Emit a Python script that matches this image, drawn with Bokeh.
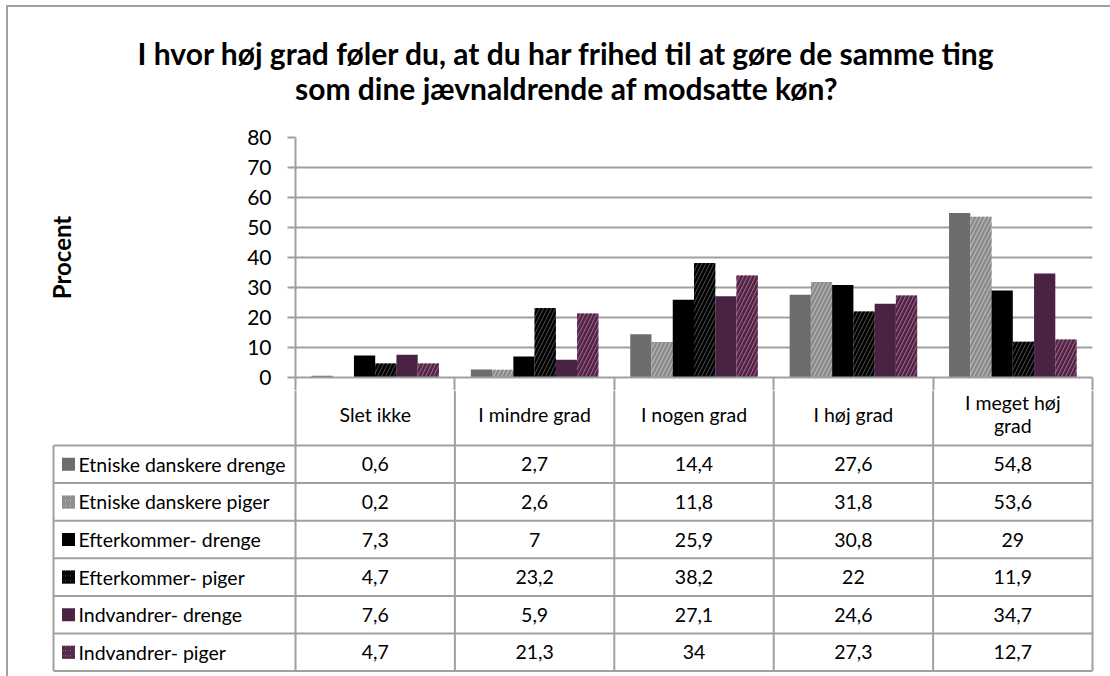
import numpy as np
from bokeh.plotting import figure
from bokeh.layouts import column
from bokeh.models import Range1d, FixedTicker, ColumnDataSource
from bokeh.core.properties import value
from bokeh.embed import file_html
from bokeh.resources import INLINE

# ---------------- data ----------------
title_text = ("I hvor høj grad føler du, at du har frihed til at gøre de samme ting\n"
              "som dine jævnaldrende af modsatte køn?")
y_title = "Procent"
categories = ["Slet ikke", "I mindre grad", "I nogen grad", "I høj grad", "I meget høj\ngrad"]
series = ["Etniske danskere drenge", "Etniske danskere piger", "Efterkommer- drenge",
          "Efterkommer- piger", "Indvandrer- drenge", "Indvandrer- piger"]
etniske_drenge = [0.6, 2.7, 14.4, 27.6, 54.8]
etniske_piger = [0.2, 2.6, 11.8, 31.8, 53.6]
efterkommer_drenge = [7.3, 7, 25.9, 30.8, 29]
efterkommer_piger = [4.7, 23.2, 38.2, 22, 11.9]
indvandrer_drenge = [7.6, 5.9, 27.1, 24.6, 34.7]
indvandrer_piger = [4.7, 21.3, 34, 27.3, 12.7]
values = [etniske_drenge, etniske_piger, efterkommer_drenge,
          efterkommer_piger, indvandrer_drenge, indvandrer_piger]
y_ticks = [0, 10, 20, 30, 40, 50, 60, 70, 80]

# ---------------- styles ----------------
fills = ["#6d6d6d", "#b8b8b8", "#000000", "#404040", "#4a2343", "#9a5a7f"]
hatches = [None, "/", None, "/", None, "/"]
hatch_cols = [None, "#8a8a8a", None, "#000000", None, "#4f2645"]
GRID = "#a0a0a0"
FONT = "Lato"
TXT = "19.5px"

# ---------------- layout (page pixels) ----------------
W = 1110
PAGE = 0
FRAME_L, FRAME_R = 295, 1092
FRAME_T, FRAME_B = 137, 377
TITLE_BOTTOM = 113
A_BOTTOM = 390
PAGE_BOTTOM = 676
LEG_L = 53
TABLE_T = 445
ROW = 37.6

n_cat = len(categories)
n_ser = len(series)
unit_x = (FRAME_R - FRAME_L) / n_cat


def clean(p):
    p.border_fill_color = None
    p.background_fill_color = None
    p.outline_line_color = None


# ---------------- title figure ----------------
hT = TITLE_BOTTOM - PAGE
pT = figure(width=W, height=hT, x_range=Range1d(0, W), y_range=Range1d(0, hT),
            min_border=0, x_axis_type=None, y_axis_type=None, frame_align=False,
            output_backend="svg", toolbar_location=None)
clean(pT)
pT.grid.visible = False
pT.text(x=[566 - PAGE], y=[hT - (70 - PAGE)], text=[title_text],
        text_font=value(FONT), text_font_style="bold", text_font_size="30px",
        text_align="center", text_baseline="middle", text_line_height=0.96,
        text_color="black")

# ---------------- bar chart ----------------
hA = A_BOTTOM - TITLE_BOTTOM
pA = figure(width=W, height=hA, x_range=Range1d(0, n_cat), y_range=Range1d(0, 80),
            min_border_left=FRAME_L - PAGE, min_border_right=PAGE + W - FRAME_R,
            min_border_top=FRAME_T - TITLE_BOTTOM, min_border_bottom=A_BOTTOM - FRAME_B,
            frame_align=False, output_backend="svg", toolbar_location=None)
clean(pA)
pA.xgrid.visible = False
pA.ygrid.ticker = FixedTicker(ticks=y_ticks[1:])
pA.ygrid.grid_line_color = GRID
pA.ygrid.grid_line_width = 2

xa = pA.xaxis[0]
xa.ticker = FixedTicker(ticks=[], minor_ticks=list(range(n_cat + 1)))
xa.axis_line_color = GRID
xa.axis_line_width = 2
xa.major_tick_out = 0
xa.major_tick_in = 0
xa.major_label_standoff = 0
xa.major_label_text_font_size = "1px"
xa.minor_tick_out = A_BOTTOM - FRAME_B
xa.minor_tick_in = 0
xa.minor_tick_line_color = GRID
xa.minor_tick_line_width = 2

ya = pA.yaxis[0]
ya.ticker = FixedTicker(ticks=y_ticks)
ya.axis_line_color = GRID
ya.axis_line_width = 2
ya.major_tick_out = 8
ya.major_tick_in = 0
ya.major_tick_line_color = GRID
ya.major_tick_line_width = 2
ya.minor_tick_line_color = None
ya.major_label_text_font = FONT
ya.major_label_text_font_size = "21px"
ya.major_label_text_color = "black"
ya.major_label_standoff = 16
ya.axis_label = y_title
ya.axis_label_text_font = FONT
ya.axis_label_text_font_style = "bold"
ya.axis_label_text_font_size = "24px"
ya.axis_label_text_color = "black"
ya.axis_label_standoff = 168

bar_w = 1 / 7.5
cat_idx = np.arange(n_cat)
for i, (name, vals) in enumerate(zip(series, values)):
    xs = cat_idx + 0.5 + (i - (n_ser - 1) / 2) * bar_w
    src = ColumnDataSource(dict(x=xs, top=vals))
    kw = dict(fill_color=fills[i], line_color=None)
    if hatches[i]:
        kw.update(hatch_pattern=hatches[i], hatch_color=hatch_cols[i],
                  hatch_scale=8, hatch_weight=2.5)
    pA.vbar(x="x", top="top", bottom=0, width=bar_w, source=src, **kw)

# ---------------- data table ----------------
hB = PAGE_BOTTOM - A_BOTTOM
x0 = (PAGE - FRAME_L) / unit_x
x1 = (PAGE + W - FRAME_L) / unit_x
table_bottom = TABLE_T + n_ser * ROW
y0 = -(PAGE_BOTTOM - table_bottom) / ROW
y1 = n_ser + (TABLE_T - A_BOTTOM) / ROW
leg_x = (LEG_L - FRAME_L) / unit_x

pB = figure(width=W, height=hB, x_range=Range1d(x0, x1), y_range=Range1d(y0, y1),
            min_border=0, x_axis_type=None, y_axis_type=None, frame_align=False,
            output_backend="svg", toolbar_location=None)
clean(pB)
pB.grid.visible = False

# horizontal lines
hy = list(range(n_ser + 1))
pB.segment(x0=[leg_x] * len(hy), x1=[n_cat] * len(hy), y0=hy, y1=hy,
           line_color=GRID, line_width=2)
# vertical lines (category boundaries, through header row)
vx = list(range(n_cat + 1))
pB.segment(x0=vx, x1=vx, y0=[0] * len(vx), y1=[y1] * len(vx),
           line_color=GRID, line_width=2)
# left border of legend column
pB.segment(x0=[leg_x], x1=[leg_x], y0=[0], y1=[n_ser], line_color=GRID, line_width=2)

# header labels
header_y = n_ser + (TABLE_T - 413.5) / ROW
pB.text(x=cat_idx + 0.5, y=[header_y] * n_cat, text=categories,
        text_font=value(FONT), text_font_size=TXT, text_align="center",
        text_baseline="middle", text_line_height=0.96, text_color="black")

row_y = [n_ser - i - 0.5 for i in range(n_ser)]
for i, (name, vals) in enumerate(zip(series, values)):
    labels = [f"{v:g}".replace(".", ",") for v in vals]
    pB.text(x=cat_idx + 0.5, y=[row_y[i]] * n_cat, text=labels,
            text_font=value(FONT), text_font_size=TXT, text_align="center",
            text_baseline="middle", text_color="black")
    kw = dict(fill_color=fills[i], line_color=None)
    if hatches[i]:
        kw.update(hatch_pattern=hatches[i], hatch_color=hatch_cols[i],
                  hatch_scale=5, hatch_weight=2)
    pB.scatter(x=[leg_x + 15 / unit_x], y=[row_y[i]], marker="square", size=13, **kw)

pB.text(x=[leg_x] * n_ser, y=row_y, text=series, x_offset=25,
        text_font=value(FONT), text_font_size=TXT, text_align="left",
        text_baseline="middle", text_color="black")

layout = column(pT, pA, pB, styles={
    "box-shadow": "inset 6px 5px 0 0 #ffffff, inset 8px 7px 0 0 #a0a0a0",
    "background-color": "#ffffff"})

with open("out.html", "w") as f:
    f.write(file_html(layout, INLINE))
